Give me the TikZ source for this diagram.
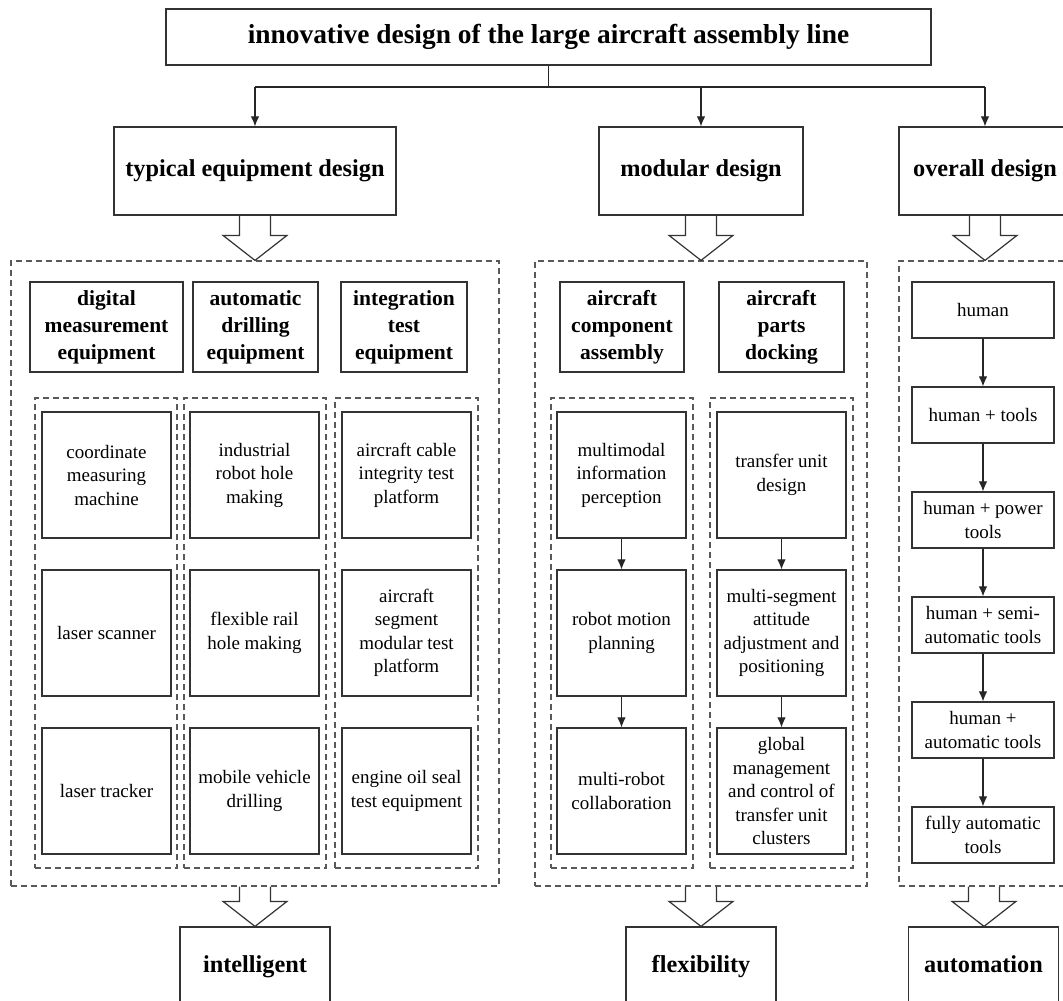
\documentclass[tikz,border=0pt]{standalone}
\usepackage{fontspec}
\setmainfont{Liberation Serif}
\usetikzlibrary{arrows.meta,calc}
\tikzset{
 bx/.style={draw=black!80, line width=1.2pt, align=center, inner sep=0pt, fill=white},
 itembox/.style={bx, minimum width=129pt, minimum height=126pt, font=\fontsize{19}{23.5}\selectfont},
 hdrbox/.style={bx, minimum height=90pt, font=\bfseries\fontsize{21.5}{27}\selectfont},
 lvlbox/.style={bx, minimum height=88pt, text height=17pt, text depth=6pt, font=\bfseries\fontsize{24.3}{29}\selectfont},
 resbox/.style={bx, minimum width=150pt, minimum height=80pt, text height=17pt, text depth=6pt, font=\bfseries\fontsize{24.3}{29}\selectfont},
 dbox/.style={draw=black!65, line width=1.2pt, dash pattern=on 6pt off 4pt, inner sep=0pt},
 stagebox/.style={bx, minimum width=142pt, minimum height=56pt, font=\fontsize{19}{23.5}\selectfont},
 arr/.style={draw=black!85, line width=1.1pt, -{Latex[length=10pt,width=8.5pt]}},
 hollow/.style={draw=black!80, line width=1.2pt, line join=miter},
}
\newcommand\hollowarr[2]{\draw[hollow] let \p1=(#1.south), \p2=(#2.north) in
  (\x1-15.5pt,\y1) -- (\x1-15.5pt,\y2+25pt) -- (\x1-32pt,\y2+25pt) -- (\x1,\y2)
  -- (\x1+32pt,\y2+25pt) -- (\x1+15.5pt,\y2+25pt) -- (\x1+15.5pt,\y1);}
\begin{document}
\begin{tikzpicture}[x=1pt,y=-1pt]
\useasboundingbox (0,0) rectangle (1063,1001);
\clip (0,0) rectangle (1063,1001);
\fill[white] (0,0) rectangle (1063,1001);

% title and first level
\node[bx, minimum width=765pt, minimum height=56pt, text height=19pt, text depth=6pt, font=\bfseries\fontsize{27.4}{31}\selectfont] (title) at (548.5,37) {innovative design of the large aircraft assembly line};
\node[lvlbox, minimum width=282pt] (typ) at (255,171) {typical equipment design};
\node[lvlbox, minimum width=204pt] (mod) at (701,171) {modular design};
\node[lvlbox, minimum width=172pt] (ovr) at (985,171) {overall design};

\coordinate (jn) at (546,87);
\draw[draw=black!85, line width=1.1pt] (title.south) -- (title.south |- jn);
\draw[draw=black!85, line width=1.1pt] (jn -| typ) -- (jn -| ovr);
\draw[arr] (jn -| typ) -- (typ.north);
\draw[arr] (jn -| mod) -- (mod.north);
\draw[arr] (jn -| ovr) -- (ovr.north);

% outer dashed groups
\node[dbox, minimum width=488pt, minimum height=625pt] (dL) at (255,573.5) {};
\node[dbox, minimum width=332pt, minimum height=625pt] (dM) at (701,573.5) {};
\node[dbox, minimum width=170pt, minimum height=625pt] (dR) at (984,573.5) {};

\hollowarr{typ}{dL}
\hollowarr{mod}{dM}
\hollowarr{ovr}{dR}

% headers
\node[hdrbox, minimum width=153pt] (h1) at (106.5,327) {digital\\measurement\\equipment};
\node[hdrbox, minimum width=125pt] (h2) at (255.5,327) {automatic\\drilling\\equipment};
\node[hdrbox, minimum width=126pt] (h3) at (404,327) {integration\\test\\equipment};
\node[hdrbox, minimum width=124pt] (h4) at (622,327) {aircraft\\component\\assembly};
\node[hdrbox, minimum width=125pt] (h5) at (781.5,327) {aircraft\\parts\\docking};

% inner dashed columns
\node[dbox, minimum width=142pt, minimum height=470pt] (c1) at (106,633) {};
\node[dbox, minimum width=142pt, minimum height=470pt] (c2) at (255,633) {};
\node[dbox, minimum width=143pt, minimum height=470pt] (c3) at (406.5,633) {};
\node[dbox, minimum width=142pt, minimum height=470pt] (c4) at (622,633) {};
\node[dbox, minimum width=143pt, minimum height=470pt] (c5) at (781.5,633) {};

% items
\node[itembox] (a1) at (106.5,475) {coordinate\\measuring\\machine};
\node[itembox] (a2) at (106.5,633) {laser scanner};
\node[itembox] (a3) at (106.5,791) {laser tracker};
\node[itembox] (b1) at (254.5,475) {industrial\\robot hole\\making};
\node[itembox] (b2) at (254.5,633) {flexible rail\\hole making};
\node[itembox] (b3) at (254.5,791) {mobile vehicle\\drilling};
\node[itembox] (e1) at (406.5,475) {aircraft cable\\integrity test\\platform};
\node[itembox] (e2) at (406.5,633) {aircraft\\segment\\modular test\\platform};
\node[itembox] (e3) at (406.5,791) {engine oil seal\\test equipment};
\node[itembox] (m1) at (621.5,475) {multimodal\\information\\perception};
\node[itembox] (m2) at (621.5,633) {robot motion\\planning};
\node[itembox] (m3) at (621.5,791) {multi-robot\\collaboration};
\node[itembox] (p1) at (781.5,475) {transfer unit\\design};
\node[itembox] (p2) at (781.5,633) {multi-segment\\attitude\\adjustment and\\positioning};
\node[itembox] (p3) at (781.5,791) {global\\management\\and control of\\transfer unit\\clusters};
\draw[arr] (m1) -- (m2);
\draw[arr] (m2) -- (m3);
\draw[arr] (p1) -- (p2);
\draw[arr] (p2) -- (p3);

% right column stages
\node[stagebox] (s1) at (983,310) {human};
\node[stagebox] (s2) at (983,415) {human + tools};
\node[stagebox] (s3) at (983,520) {human + power\\tools};
\node[stagebox] (s4) at (983,625) {human + semi-\\automatic tools};
\node[stagebox] (s5) at (983,730) {human +\\automatic tools};
\node[stagebox] (s6) at (983,835) {fully automatic\\tools};
\draw[arr] (s1) -- (s2);
\draw[arr] (s2) -- (s3);
\draw[arr] (s3) -- (s4);
\draw[arr] (s4) -- (s5);
\draw[arr] (s5) -- (s6);

% results
\node[resbox] (r1) at (255,967) {intelligent};
\node[resbox] (r2) at (701,967) {flexibility};
\node[resbox] (r3) at (983.5,967) {automation};
\hollowarr{dL}{r1}
\hollowarr{dM}{r2}
\hollowarr{dR}{r3}
\end{tikzpicture}
\end{document}
